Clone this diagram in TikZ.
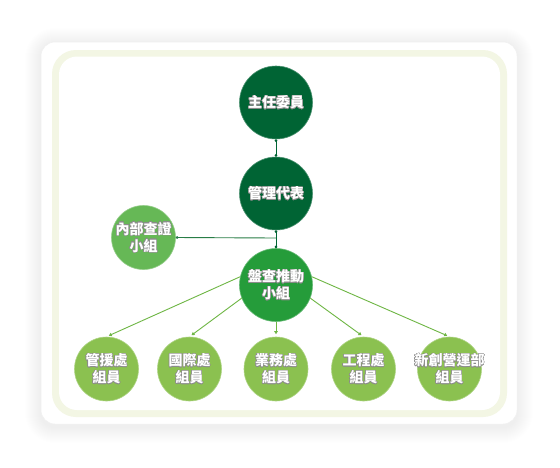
\documentclass[tikz,border=0pt]{standalone}
\usepackage{fontspec}
\newfontfamily\cjk{Noto Sans CJK TC}
\usepackage[copies]{contour}
\contourlength{0.45pt}
\contournumber{16}
\newcommand{\outl}[1]{\contour{black!45}{#1}}
\usetikzlibrary{arrows.meta}
\definecolor{dkgreen}{RGB}{0,100,52}
\definecolor{midgreen}{RGB}{37,156,58}
\definecolor{auditgreen}{RGB}{102,184,86}
\definecolor{ltgreen}{RGB}{139,193,80}
\definecolor{linegreen}{RGB}{110,182,68}
\definecolor{hgreen}{RGB}{40,125,70}
\definecolor{cream}{RGB}{243,246,228}
\tikzset{
  orgnode/.style={circle, inner sep=0pt, align=center, text=white,
    font=\cjk\bfseries\fontsize{14}{17}\selectfont},
  bigdark/.style={orgnode, minimum size=73pt, fill=dkgreen, draw=dkgreen!70!white, line width=0.6pt},
  bigmid/.style={orgnode, minimum size=73pt, fill=midgreen, draw=midgreen!70!white, line width=0.6pt},
  audit/.style={orgnode, minimum size=64pt, fill=auditgreen, draw=auditgreen!70!white, line width=0.6pt},
  unit/.style={orgnode, minimum size=64pt, fill=ltgreen, draw=ltgreen!70!white, line width=0.6pt},
  topconn/.style={draw=dkgreen, line width=0.9pt, {Circle[length=2.6pt]}-{Circle[length=2.6pt]}},
  sideconn/.style={draw=hgreen, line width=0.9pt, -{Circle[length=2.6pt]}},
  unitconn/.style={draw=linegreen, line width=0.9pt, -{Triangle[length=3pt,width=3.5pt]}, shorten >=2.5pt},
}
\begin{document}
\begin{tikzpicture}[x=1pt,y=-1pt]
\useasboundingbox (0,0) rectangle (560,467);
\fill[white] (0,0) rectangle (560,467);
% soft shadow
\foreach \s in {1,...,16} {
  \fill[black, opacity=0.0045, rounded corners={14+\s}]
    (41-\s,42-\s+2) rectangle (517+\s,424+\s+3);
}
% card
\fill[white, draw=black!6, line width=0.5pt, rounded corners=14] (41,42) rectangle (517,424);
% cream ring
\fill[cream, rounded corners=24] (52,50) rectangle (507,417);
\fill[white, rounded corners=18] (59,56.5) rectangle (500,410);

% nodes
\node[bigdark] (chief) at (276,102.5) {\outl{主任委員}};
\node[bigdark] (rep) at (276,193.5) {\outl{管理代表}};
\node[audit] (audit) at (143.5,237.5) {\outl{內部查證}\\\outl{小組}};
\node[bigmid] (drive) at (276,285) {\outl{盤查推動}\\\outl{小組}};
\node[unit] (u1) at (106.5,369) {\outl{管援處}\\\outl{組員}};
\node[unit] (u2) at (189.5,369) {\outl{國際處}\\\outl{組員}};
\node[unit] (u3) at (276,369) {\outl{業務處}\\\outl{組員}};
\node[unit] (u4) at (363.5,369) {\outl{工程處}\\\outl{組員}};
\node[unit] (u5) at (449.5,369) {\makebox[0pt]{\outl{新創營運部}}\\\outl{組員}};

% connectors
\coordinate (junc) at (276,238);
\draw[topconn] (chief.south) -- (rep.north);
\draw[topconn] (rep.south) -- (drive.north);
\draw[sideconn] (junc) -- (audit.east);
\draw[unitconn] (drive.167) -- (u1.north);
\draw[unitconn] (drive.201) -- (u2.north);
\draw[unitconn] (drive.south) -- (u3.north);
\draw[unitconn] (drive.339) -- (u4.north);
\draw[unitconn] (drive.13) -- (u5.north);
\end{tikzpicture}
\end{document}
